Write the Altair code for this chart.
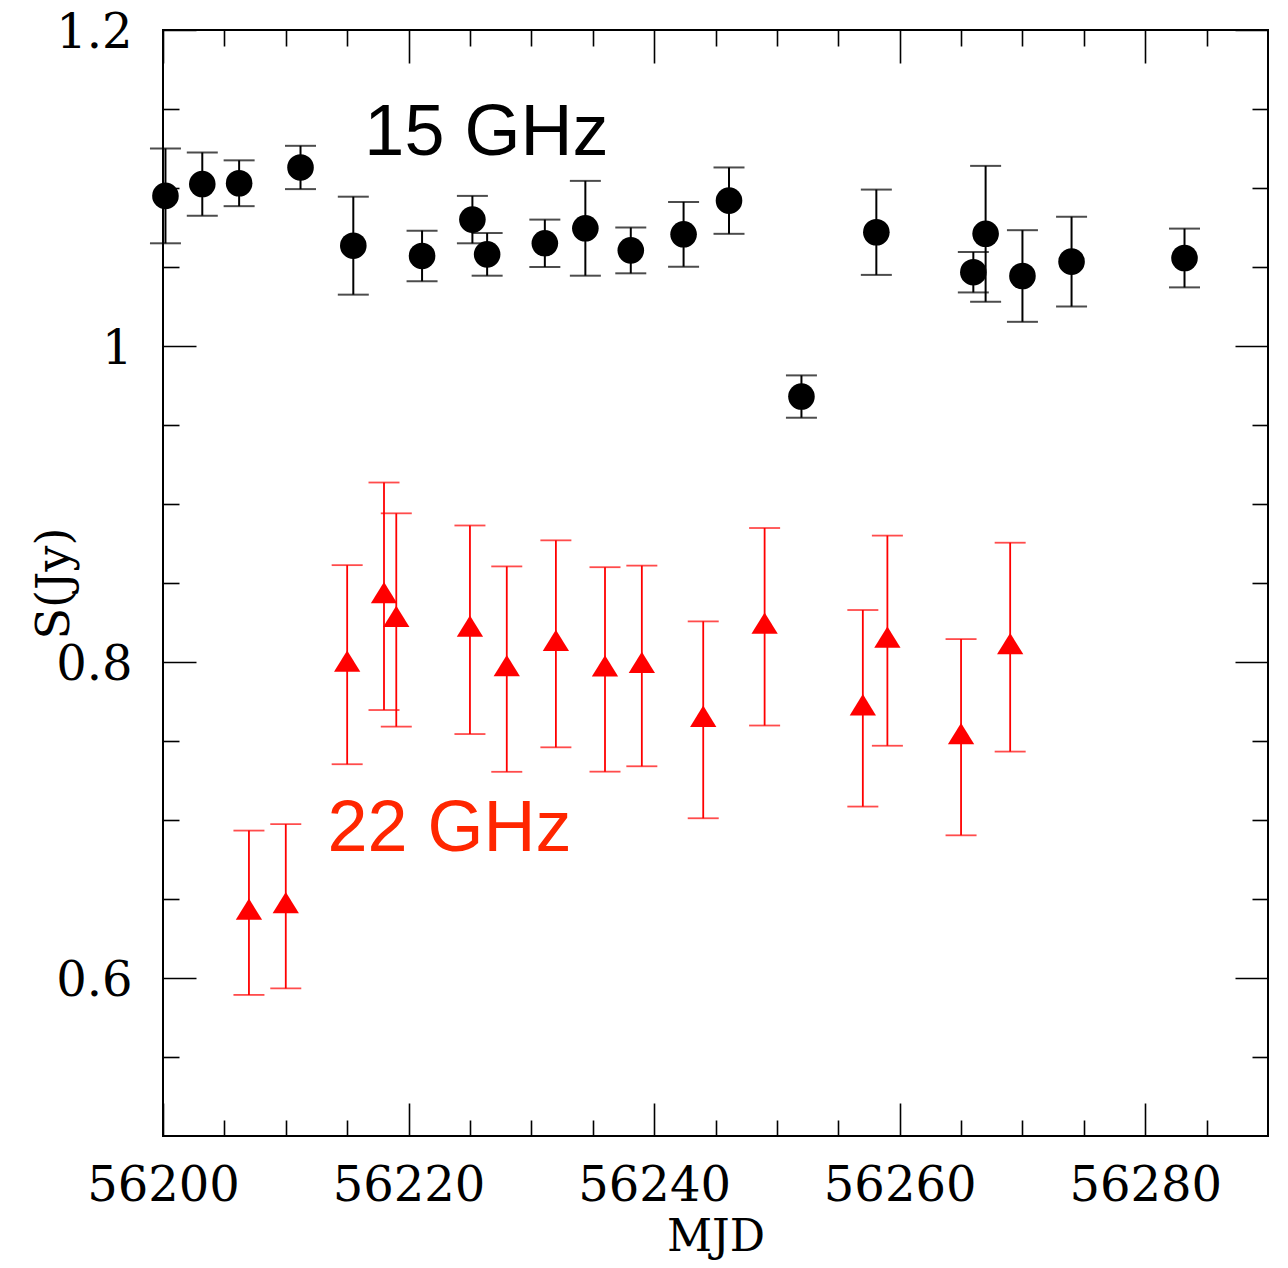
import altair as alt
import pandas as pd

# ---- data ----
mjd15 = [56200.2, 56203.2, 56206.2, 56211.2, 56215.5, 56221.1, 56225.2, 56226.4,
         56231.1, 56234.4, 56238.1, 56242.4, 56246.1, 56252.0, 56258.1, 56266.0,
         56267.0, 56270.0, 56274.0, 56283.2]
s15 = [1.095, 1.1025, 1.103, 1.113, 1.0635, 1.057, 1.080, 1.058,
       1.065, 1.0745, 1.0605, 1.0707, 1.092, 0.968, 1.072, 1.0467,
       1.071, 1.0443, 1.0534, 1.0557]
e15 = [0.030, 0.020, 0.0145, 0.0137, 0.031, 0.016, 0.015, 0.0135,
       0.015, 0.030, 0.0145, 0.0205, 0.021, 0.0134, 0.027, 0.0128,
       0.043, 0.029, 0.0284, 0.0186]

mjd22 = [56207.0, 56210.0, 56215.0, 56218.0, 56219.0, 56225.0, 56228.0, 56232.0,
         56236.0, 56239.0, 56244.0, 56249.0, 56257.0, 56259.0, 56265.0, 56269.0]
s22 = [0.6413, 0.6454, 0.7983, 0.8416, 0.8266, 0.8204, 0.7955, 0.8115,
       0.7953, 0.7975, 0.7634, 0.8223, 0.7707, 0.8135, 0.7524, 0.8094]
e22 = [0.052, 0.052, 0.063, 0.072, 0.0675, 0.066, 0.065, 0.0655,
       0.0647, 0.0635, 0.0623, 0.0625, 0.0622, 0.0665, 0.0621, 0.0661]

label_text = ["15 GHz", "22 GHz"]
label_mjd = [56216.4, 56213.4]
label_s = [1.121, 0.6804]
label_color = ["#000000", "#ff2600"]

x_domain = [56200, 56290]
y_domain = [0.5, 1.2]
x_major = [56200, 56220, 56240, 56260, 56280]
x_minor = [56205, 56210, 56215, 56225, 56230, 56235, 56245, 56250,
           56255, 56265, 56270, 56275, 56285]
y_major = [0.6, 0.8, 1.0, 1.2]
y_minor = [0.55, 0.65, 0.7, 0.75, 0.85, 0.9, 0.95, 1.05, 1.1, 1.15]

d15 = pd.DataFrame({"mjd": mjd15, "s": s15, "e": e15})
d15["lo"] = d15["s"] - d15["e"]
d15["hi"] = d15["s"] + d15["e"]
d22 = pd.DataFrame({"mjd": mjd22, "s": s22, "e": e22})
d22["lo"] = d22["s"] - d22["e"]
d22["hi"] = d22["s"] + d22["e"]
dlab = pd.DataFrame({"t": label_text, "mjd": label_mjd, "s": label_s, "c": label_color})

FONT = "DejaVu Serif"
xs = alt.Scale(domain=x_domain, nice=False, zero=False)
ys = alt.Scale(domain=y_domain, nice=False, zero=False)

W, H = 1105, 1106


def tick_axis(orient, values, size):
    return alt.Axis(orient=orient, values=values, tickSize=size, offset=-size,
                    domain=False, labels=False, title=None, grid=False, ticks=True,
                    tickColor="black", tickWidth=1.6)


def axis_layer(xaxis, yaxis):
    return alt.Chart(d15).mark_point(opacity=0).encode(
        x=alt.X("mjd:Q", scale=xs, axis=xaxis),
        y=alt.Y("s:Q", scale=ys, axis=yaxis),
    )


x_label_axis = alt.Axis(
    orient="bottom", values=x_major, format="d", ticks=False, tickSize=0,
    domain=False, grid=False, labelFont=FONT, labelFontSize=48,
    labelColor="black", labelPadding=26, labelFlush=False, labelOverlap=False,
    title="MJD", titleFont=FONT, titleFontSize=44, titleFontWeight="normal",
    titleColor="black", titleX=W / 2, titleY=114, titleBaseline="alphabetic",
    titleAlign="center",
)
y_label_axis = alt.Axis(
    orient="left", values=y_major, format=".1~f", ticks=False, tickSize=0,
    domain=False, grid=False, labelFont=FONT, labelFontSize=48,
    labelColor="black", labelPadding=31, labelOffset=3, labelBaseline="middle",
    labelFlush=False, labelOverlap=False,
    title="S(Jy)", titleFont=FONT, titleFontSize=46, titleFontWeight="normal",
    titleColor="black", titleX=-95, titleY=H / 2, titleAngle=270,
    titleBaseline="alphabetic", titleAlign="center",
)

axes = [
    axis_layer(x_label_axis, y_label_axis),
    axis_layer(tick_axis("bottom", x_major, 33), tick_axis("left", y_major, 33)),
    axis_layer(tick_axis("bottom", x_minor, 16), tick_axis("left", y_minor, 16)),
    axis_layer(tick_axis("top", x_major, 33), tick_axis("right", y_major, 33)),
    axis_layer(tick_axis("top", x_minor, 16), tick_axis("right", y_minor, 16)),
]


def series(df, color, shape, size, width):
    base = alt.Chart(df)
    x = alt.X("mjd:Q", scale=xs, axis=None)
    bars = base.mark_rule(color=color, strokeWidth=width).encode(
        x=x, y=alt.Y("lo:Q", scale=ys, axis=None), y2="hi:Q")
    cap_lo = base.mark_tick(color=color, orient="horizontal", size=31,
                            thickness=width).encode(
        x=x, y=alt.Y("lo:Q", scale=ys, axis=None))
    cap_hi = base.mark_tick(color=color, orient="horizontal", size=31,
                            thickness=width).encode(
        x=x, y=alt.Y("hi:Q", scale=ys, axis=None))
    pts = base.mark_point(shape=shape, filled=True, size=size, color=color,
                          opacity=1, strokeWidth=0).encode(
        x=x, y=alt.Y("s:Q", scale=ys, axis=None))
    return [bars, cap_lo, cap_hi, pts]


black = series(d15, "#000000", "circle", 707, 2)
red = series(d22, "#ff0000", "M0,-1.08L1,0.54L-1,0.54Z", 692, 1.8)

labels = alt.Chart(dlab).mark_text(
    align="left", baseline="alphabetic", font="Liberation Sans", fontSize=72
).encode(
    x=alt.X("mjd:Q", scale=xs, axis=None),
    y=alt.Y("s:Q", scale=ys, axis=None),
    text="t:N",
    color=alt.Color("c:N", scale=None),
)

chart = alt.layer(*axes, *red, *black, labels).resolve_axis(
    x="independent", y="independent"
).properties(
    width=W, height=H, autosize="none",
    padding={"left": 155, "top": 22, "right": 5, "bottom": 124},
).configure_view(stroke="black", strokeWidth=2)

chart.save("out.html", embed_options={"renderer": "svg", "actions": False})
